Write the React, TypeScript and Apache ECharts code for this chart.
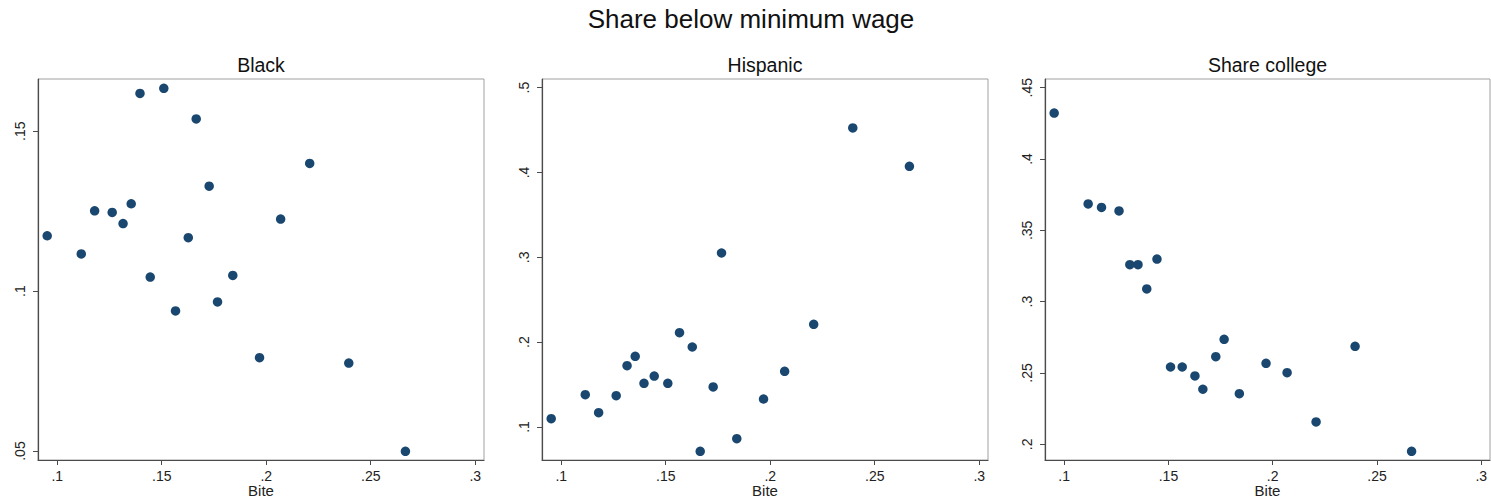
import React, { useEffect, useRef } from "react";
import * as echarts from "echarts";

const mainTitle = "Share below minimum wage";
const panelTitles = ["Black", "Hispanic", "Share college"];
const xAxisTitle = "Bite";

// Bite (x) values, shared by all three panels
const bite = [
  0.0952, 0.1115, 0.1179, 0.1263, 0.1315, 0.1354, 0.1396, 0.1445, 0.151, 0.1566,
  0.1627, 0.1665, 0.1727, 0.1767, 0.184, 0.1968, 0.2069, 0.2208, 0.2395, 0.2666,
];
const black = [
  0.1173, 0.1116, 0.1251, 0.1246, 0.1211, 0.1273, 0.1618, 0.1044, 0.1634, 0.0938,
  0.1167, 0.1538, 0.1328, 0.0966, 0.1049, 0.0792, 0.1225, 0.1399, 0.0775, 0.0499,
];
const hispanic = [
  0.1098, 0.1381, 0.1169, 0.1369, 0.1723, 0.1833, 0.1515, 0.1601, 0.1515, 0.2112,
  0.1943, 0.0713, 0.1472, 0.3051, 0.0862, 0.133, 0.1656, 0.221, 0.4525, 0.4073,
];
const college = [
  0.4322, 0.3685, 0.3661, 0.3636, 0.3259, 0.3259, 0.3089, 0.3299, 0.2542, 0.2542,
  0.2479, 0.2386, 0.2614, 0.2736, 0.2355, 0.2568, 0.2502, 0.2157, 0.2687, 0.1951,
];

const xTickValues = [0.1, 0.15, 0.2, 0.25, 0.3];
const xTickLabels = [".1", ".15", ".2", ".25", ".3"];
const yTickValues = [
  [0.05, 0.1, 0.15],
  [0.1, 0.2, 0.3, 0.4, 0.5],
  [0.2, 0.25, 0.3, 0.35, 0.4, 0.45],
];
const yTickLabels = [
  [".05", ".1", ".15"],
  [".1", ".2", ".3", ".4", ".5"],
  [".2", ".25", ".3", ".35", ".4", ".45"],
];

const FONT = "Liberation Sans, Arial, sans-serif";
const MARKER = "#1a476f";
const DARK = "#4a4a4a";

const grids = [
  { left: 38, top: 79, width: 446, height: 381 },
  { left: 542, top: 79, width: 446, height: 381 },
  { left: 1045, top: 79, width: 445, height: 381 },
];
const xRange = [0.0908, 0.3042];
const yRanges = [
  [0.0472, 0.1663],
  [0.0611, 0.5102],
  [0.189, 0.4561],
];

function labelFor(values: number[], labels: string[], v: number) {
  for (let i = 0; i < values.length; i++) {
    if (Math.abs(values[i] - v) < 1e-9) return labels[i];
  }
  return "";
}

export default function App() {
  const ref = useRef<HTMLDivElement>(null);
  useEffect(() => {
    if (!ref.current) return;
    const chart = echarts.init(ref.current, null, { renderer: "svg" });
    const ySeries = [black, hispanic, college];

    const option: any = {
      animation: false,
      backgroundColor: "#ffffff",
      title: [
        {
          text: mainTitle,
          left: 751,
          top: 6,
          padding: 0,
          textAlign: "center",
          textStyle: { fontFamily: FONT, fontSize: 26, fontWeight: "normal", color: "#111" },
        },
        ...grids.map((g, i) => ({
          text: panelTitles[i],
          left: g.left + g.width / 2,
          top: 55,
          padding: 0,
          textAlign: "center",
          textStyle: { fontFamily: FONT, fontSize: 19.5, fontWeight: "normal", color: "#111" },
        })),
      ],
      grid: grids.map((g) => ({
        ...g,
        show: true,
        borderColor: "#a0a0a0",
        borderWidth: 1,
        backgroundColor: "#ffffff",
        containLabel: false,
        outerBoundsMode: "none",
      })),
      xAxis: grids.map((g, i) => ({
        type: "value",
        gridIndex: i,
        min: xRange[0],
        max: xRange[1],
        name: xAxisTitle,
        nameLocation: "middle",
        nameGap: 23,
        nameMoveOverlap: false,
        nameTextStyle: { fontFamily: FONT, fontSize: 15, color: "#222" },
        splitLine: { show: false },
        axisLine: { show: true, onZero: false, lineStyle: { color: DARK, width: 1.2 } },
        axisTick: { show: true, inside: false, length: 5, customValues: xTickValues, lineStyle: { color: DARK } },
        axisLabel: {
          customValues: xTickValues,
          margin: 9,
          fontFamily: FONT,
          fontSize: 14,
          color: "#222",
          formatter: (v: number) => labelFor(xTickValues, xTickLabels, v),
        },
      })),
      yAxis: grids.map((g, i) => ({
        type: "value",
        gridIndex: i,
        min: yRanges[i][0],
        max: yRanges[i][1],
        splitLine: { show: false },
        axisLine: { show: true, onZero: false, lineStyle: { color: DARK, width: 1.2 } },
        axisTick: { show: true, inside: false, length: 5, customValues: yTickValues[i], lineStyle: { color: DARK } },
        axisLabel: {
          customValues: yTickValues[i],
          rotate: 90,
          margin: 11,
          fontFamily: FONT,
          fontSize: 14,
          color: "#222",
          formatter: (v: number) => labelFor(yTickValues[i], yTickLabels[i], v),
        },
      })),
      series: ySeries.map((ys, i) => ({
        type: "scatter",
        xAxisIndex: i,
        yAxisIndex: i,
        symbol: "circle",
        symbolSize: 9.5,
        itemStyle: { color: MARKER, opacity: 1 },
        data: bite.map((x, k) => [x, ys[k]]),
      })),
    };
    chart.setOption(option);
    return () => chart.dispose();
  }, []);

  return (
    <div
      ref={ref}
      style={{ position: "absolute", left: 0, top: 0, width: 1491, height: 502, background: "#fff" }}
    />
  );
}
